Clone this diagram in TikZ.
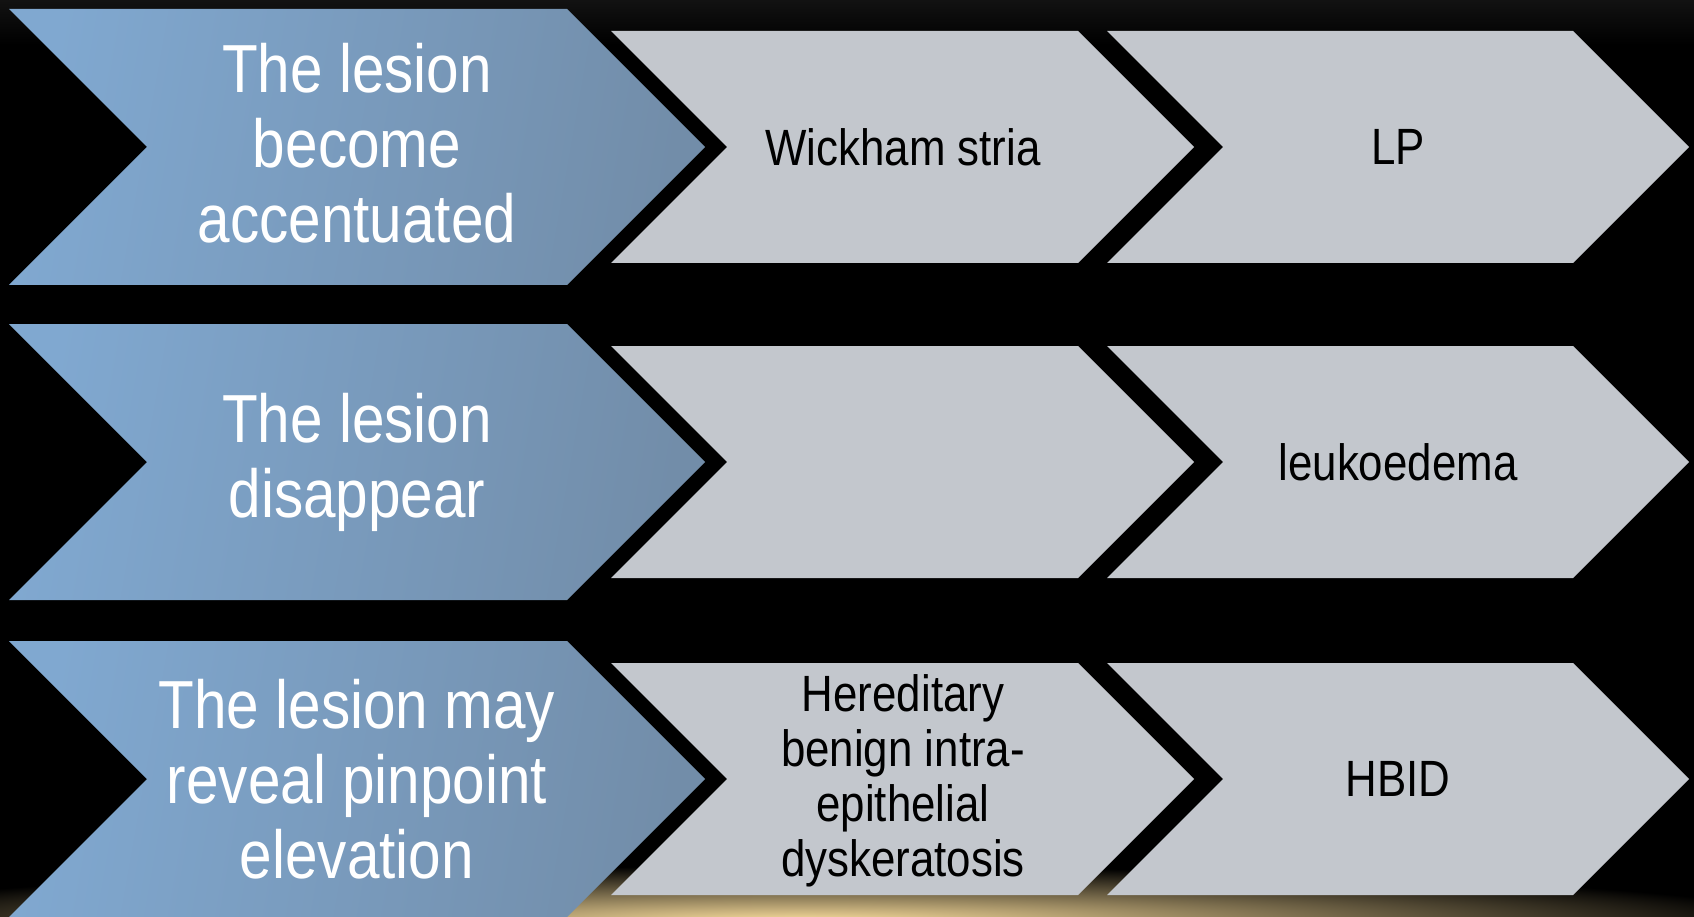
\documentclass[tikz,border=0pt]{standalone}
\usepackage{fontspec}
\setmainfont{Liberation Sans}[FakeStretch=0.86]

\definecolor{blueL}{HTML}{80A8D0}
\definecolor{blueR}{HTML}{728DA9}
\definecolor{greyF}{HTML}{C3C7CD}
\definecolor{glow}{HTML}{FFE2A0}
\definecolor{topband}{HTML}{121212}

% chevron outline: left x, centre y, body length, half height
\newcommand\chevpath[4]{(#1,#2-#4) -- (#1+#3,#2-#4) -- (#1+#3+#4,#2)
  -- (#1+#3,#2+#4) -- (#1,#2+#4) -- (#1+#4,#2) -- cycle}

\begin{document}
\begin{tikzpicture}[x=1pt,y=-1pt,
  bluechev/.style={left color=blueL, right color=blueR, shading angle=80},
  greychev/.style={fill=greyF},
  bluetext/.style={text=white, align=center, inner sep=0pt,
    font=\fontsize{68}{75}\selectfont},
  greytext/.style={text=black, align=center, inner sep=0pt,
    font=\fontsize{51}{55}\selectfont}]
\useasboundingbox (0,0) rectangle (1694,917);

% background with a faint lighter band on top and a warm light at the bottom
\fill[black] (0,0) rectangle (1694,917);
\shade[top color=topband, bottom color=black] (0,0) rectangle (1694,45);
\shade[inner color=glow, outer color=black] (800,922) ellipse [x radius=1000, y radius=56];

% row centres
\def\ra{147}\def\rb{462}\def\rc{779}

% first column: blue chevrons
\foreach \r in {\ra,\rb,\rc}{
  \shade[bluechev] \chevpath{9}{\r}{558}{138};
}
% second and third columns: grey chevrons
\foreach \r in {\ra,\rb,\rc}{
  \fill[greychev] \chevpath{611}{\r}{467}{116};
  \fill[greychev] \chevpath{1107}{\r}{466}{116};
}

% labels
\node[bluetext] (b1) at (357,\ra-4) {The lesion\\become\\accentuated};
\node[bluetext] (b2) at (357,\rb) {The lesion\\disappear};
\node[bluetext] (b3) at (357,\rc) {The lesion may\\reveal pinpoint\\elevation};

\node[greytext] (g11) at (903,\ra) {Wickham stria};
\node[greytext] (g12) at (1398,\ra) {LP};
\node[greytext] (g22) at (1398,\rb) {leukoedema};
\node[greytext] (g31) at (903,\rc+2) {Hereditary\\benign intra-\\epithelial\\dyskeratosis};
\node[greytext] (g32) at (1398,\rc) {HBID};
\end{tikzpicture}
\end{document}
